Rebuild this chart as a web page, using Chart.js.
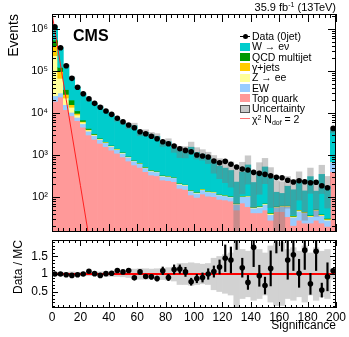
<!DOCTYPE html>
<html>
<head>
<meta charset="utf-8">
<script src="https://cdn.jsdelivr.net/npm/chart.js@4.4.0/dist/chart.umd.min.js"></script>
<style>
  html, body { margin: 0; padding: 0; background: #fff; }
  #wrap { position: relative; width: 349px; height: 337px; font-family: "Liberation Sans", Arial, sans-serif; color: #000; }
  canvas { position: absolute; left: 0; }
  #cTop { top: 0; }
  #cRatio { top: 236px; }
  .lumi { position: absolute; right: 13px; top: 1px; font-size: 11px; line-height: 12px; white-space: nowrap; }
  .lumi sup { font-size: 7px; vertical-align: 4px; line-height: 0; }
  .cms { position: absolute; left: 73px; top: 28px; font-size: 16px; font-weight: bold; line-height: 16px; }
  .leg { position: absolute; left: 240px; top: 31px; font-size: 10.5px; line-height: 10.35px; white-space: nowrap; }
  .leg div { height: 10.35px; display: flex; align-items: center; }
  .leg .sym { display: inline-block; width: 10px; height: 8px; margin-right: 2px; box-sizing: border-box; position: relative; flex: none; }
  .leg .line::before { content: ""; position: absolute; left: 0; right: 0; top: 3.5px; height: 1px; background: #000; }
  .leg .dot::after { content: ""; position: absolute; left: 2.5px; top: 1.5px; width: 5px; height: 5px; border-radius: 50%; background: #000; }
  .leg .red::before { background: #ff7070; }
  .leg sup { font-size: 7px; vertical-align: 3px; line-height: 0; }
  .leg sub { font-size: 7px; vertical-align: -2px; line-height: 0; }
</style>
</head>
<body>
<div id="wrap">
  <canvas id="cTop" width="349" height="236"></canvas>
  <canvas id="cRatio" width="349" height="101"></canvas>
  <div class="lumi">35.9 fb<sup>-1</sup> (13TeV)</div>
  <div class="cms">CMS</div>
  <div class="leg">
    <div><span class="sym line dot"></span><span>Data (0jet)</span></div>
    <div><span class="sym" style="background:#00cccc"></span><span>W → eν</span></div>
    <div><span class="sym" style="background:#009900"></span><span>QCD multijet</span></div>
    <div><span class="sym" style="background:#ffcc00"></span><span>γ+jets</span></div>
    <div><span class="sym" style="background:#ffff99"></span><span>Z → ee</span></div>
    <div><span class="sym" style="background:#99ccff"></span><span>EW</span></div>
    <div><span class="sym" style="background:#ff9999"></span><span>Top quark</span></div>
    <div><span class="sym" style="background:#c8c8c8;border:1px solid #555"></span><span>Uncertainty</span></div>
    <div><span class="sym line red"></span><span>χ<sup>2</sup> N<sub>dof</sub> = 2</span></div>
  </div>
</div>
<script>
// bins of width 4 in significance
const binCenters = [2, 6, 10, 14, 18, 22, 26, 30, 34, 38, 42, 46, 50, 54, 58, 62, 66, 70, 74, 78,
  82, 86, 90, 94, 98, 102, 106, 110, 114, 118, 122, 126, 130, 134, 138, 142, 146, 150, 154, 158,
  162, 166, 170, 174, 178, 182, 186, 190, 194, 198];

const dataCounts = [1130000, 359000, 134000, 67000, 41000, 28800, 21900, 17000, 13700, 11200,
  9300, 7500, 6200, 5200, 4470, 3590, 3220, 2790, 2440, 2070,
  1860, 1640, 1410, 1290, 1200, 1000, 946, 896, 719, 656,
  708, 601, 518, 464, 440, 387, 366, 347, 321, 294,
  288, 250, 228, 244, 231, 219, 224, 186, 166, 4300];

// MC stack, bottom to top
const topQuark = [19000, 24000, 12000, 8600, 6600, 4600, 3000, 2370, 1900, 1580,
  1310, 1100, 900, 720, 580, 508, 401, 334, 320, 254,
  245, 232, 161, 152, 112, 98, 118, 105, 102, 88,
  85, 80, 49, 72, 59, 42, 42, 49, 28, 45,
  45, 34, 21, 28, 24, 24, 28, 24, 20, 400];
const ewk = [6800, 6000, 3800, 1800, 1300, 950, 700, 550, 450, 380,
  300, 250, 200, 170, 140, 115, 95, 80, 75, 60,
  58, 55, 40, 38, 28, 25, 30, 28, 26, 24,
  22, 20, 18, 30, 45, 12, 15, 18, 10, 12,
  15, 25, 12, 18, 18, 10, 20, 12, 8, 280];
const zee = [205000, 37000, 7000, 3300, 1100, 500, 250, 120, 80, 60,
  45, 40, 40, 20, 18, 15, 12, 15, 10, 8,
  10, 6, 8, 5, 4, 5, 6, 4, 4, 3,
  3, 2, 2, 2, 2, 2, 2, 2, 2, 1,
  1, 2, 1, 2, 1, 1, 1, 1, 1, 10];
const gammaJets = [169000, 30000, 5000, 2100, 800, 250, 100, 50, 30, 20,
  15, 12, 10, 8, 6, 5, 4, 4, 3, 3,
  2, 2, 2, 2, 1, 1, 1, 1, 1, 1,
  1, 1, 1, 1, 1, 1, 1, 1, 1, 1,
  1, 1, 1, 1, 1, 1, 1, 1, 1, 2];
const qcd = [147000, 25000, 8500, 4600, 1500, 500, 250, 120, 60, 40,
  30, 25, 20, 12, 10, 8, 10, 6, 5, 5,
  4, 3, 3, 2, 2, 2, 3, 2, 2, 1,
  1, 2, 1, 1, 1, 1, 1, 1, 1, 1,
  1, 1, 1, 1, 1, 1, 1, 1, 1, 2];
const wEnu = [583200, 237000, 100400, 49400, 30540, 22000, 15980, 13620, 11750, 9010,
  7420, 5390, 4680, 3800, 4270, 2740, 2940, 2590, 2390, 1570,
  1750, 1150, 1026, 1020, 1390, 1020, 890, 756, 537, 430,
  376, 324, 156, 289, 473, 164, 326, 449, 237, 70,
  59, 118, 113, 191, 95, 269, 87, 307, 151, 3250];

// relative MC uncertainty per bin
const mcUnc = [0.04, 0.04, 0.05, 0.06, 0.05, 0.05, 0.05, 0.05, 0.06, 0.06,
  0.07, 0.07, 0.08, 0.1, 0.14, 0.15, 0.15, 0.14, 0.15, 0.16,
  0.18, 0.2, 0.3, 0.3, 0.32, 0.3, 0.28, 0.3, 0.45, 0.5,
  0.55, 0.6, 0.97, 0.7, 0.65, 0.75, 0.7, 0.6, 0.8, 0.9,
  0.9, 0.7, 0.75, 0.65, 0.8, 0.6, 0.75, 0.65, 0.7, 0.15];

const ratio = [1.0, 1.0, 0.98, 0.96, 0.98, 1.0, 1.08, 1.01, 0.96, 1.01,
  1.02, 1.1, 1.06, 1.1, 0.89, 1.06, 0.93, 0.92, 0.87, 1.09,
  0.9, 1.13, 1.14, 1.06, 0.78, 0.87, 0.9, 1.0, 1.07, 1.2,
  1.45, 1.4, 2.3, 1.18, 0.76, 1.76, 0.95, 0.67, 1.16, 2.3,
  2.4, 1.4, 1.55, 1.02, 1.68, 0.72, 1.65, 0.54, 0.92, 1.09];
const ratioErr = [0.01, 0.01, 0.01, 0.01, 0.02, 0.02, 0.02, 0.02, 0.02, 0.03,
  0.03, 0.03, 0.04, 0.05, 0.05, 0.06, 0.06, 0.07, 0.07, 0.11,
  0.09, 0.13, 0.12, 0.13, 0.1, 0.12, 0.13, 0.15, 0.16, 0.2,
  0.38, 0.37, 0.6, 0.27, 0.2, 0.55, 0.3, 0.24, 0.5, 0.7,
  0.75, 0.55, 0.45, 0.4, 0.55, 0.3, 0.55, 0.2, 0.4, 0.06];

// chi2 (Ndof = 2) reference curve, read at a few points
const chi2X = [0, 10, 20, 26];
const chi2Y = [2400000, 21000, 190, 11];

const yTickValues = [100, 1000, 10000, 100000, 1000000];
const yTickLabels = ['10²', '10³', '10⁴', '10⁵', '10⁶'];
const xTickValues = [0, 20, 40, 60, 80, 100, 120, 140, 160, 180, 200];
const ratioTickValues = [0.5, 1, 1.5];

Chart.defaults.font.family = '"Liberation Sans", Arial, sans-serif';
Chart.defaults.color = '#000';

// inward ROOT-style ticks on all four sides plus frame
const innerTicks = {
  id: 'innerTicks',
  afterDatasetsDraw(chart, args, o) {
    const { ctx, chartArea: a } = chart;
    const x = chart.scales.x, y = chart.scales.y;
    ctx.save();
    ctx.strokeStyle = '#000';
    ctx.lineWidth = 1;
    ctx.beginPath();
    for (let v = 0; v <= 200; v += 4) {
      const len = v % 20 === 0 ? o.major : o.minor;
      const px = Math.round(x.getPixelForValue(v)) + 0.5;
      ctx.moveTo(px, a.bottom); ctx.lineTo(px, a.bottom - len);
      ctx.moveTo(px, a.top); ctx.lineTo(px, a.top + len);
    }
    o.yMarks(y).forEach(([v, major]) => {
      const py = Math.round(y.getPixelForValue(v)) + 0.5;
      if (py < a.top || py > a.bottom) return;
      const len = major ? o.major : o.minor;
      ctx.moveTo(a.left, py); ctx.lineTo(a.left + len, py);
      ctx.moveTo(a.right, py); ctx.lineTo(a.right - len, py);
    });
    ctx.stroke();
    ctx.strokeRect(Math.round(a.left) + 0.5, Math.round(a.top) + 0.5, Math.round(a.width) - 1, Math.round(a.height) - 1);
    ctx.restore();
  }
};

function logMarks(y) {
  const out = [];
  for (let d = 10; d <= 1e6; d *= 10) {
    for (let m = 1; m <= 9; m++) out.push([m * d, m === 1]);
  }
  return out;
}
function ratioMarks(y) {
  const out = [];
  for (let k = 1; k <= 19; k++) out.push([k / 10, k % 5 === 0]);
  return out;
}

// fixed axis sizes, no extra padding for labels
function fixY(s) { s.width = 52; s.paddingTop = 0; s.paddingBottom = 0; }
function fixX(s) { s.height = 29; s.paddingLeft = 0; s.paddingRight = 0; }

// build the floating stack from the component arrays
const stackParts = [
  { label: 'Top quark', values: topQuark, color: '#ff9999' },
  { label: 'EW', values: ewk, color: '#99ccff' },
  { label: 'Z → ee', values: zee, color: '#ffff99' },
  { label: 'γ+jets', values: gammaJets, color: '#ffcc00' },
  { label: 'QCD multijet', values: qcd, color: '#009900' },
  { label: 'W → eν', values: wEnu, color: '#00cccc' }
];
const running = binCenters.map(() => 1);
const mcTotal = binCenters.map((_, i) => stackParts.reduce((s, p) => s + p.values[i], 0));
const stackSets = stackParts.map((p, k) => {
  const pts = binCenters.map((x, i) => {
    const lo = running[i];
    const hi = (k === 0 ? 0 : running[i]) + p.values[i];
    running[i] = hi;
    return { x, y: [lo, hi] };
  });
  return {
    type: 'bar', label: p.label, data: pts, backgroundColor: p.color,
    borderWidth: 0, grouped: false, categoryPercentage: 1, barPercentage: 1, order: 10 - k
  };
});

const uncSet = {
  type: 'bar', label: 'Uncertainty', grouped: false, categoryPercentage: 1, barPercentage: 1,
  data: binCenters.map((x, i) => ({ x, y: [mcTotal[i] * (1 - mcUnc[i]), mcTotal[i] * (1 + mcUnc[i])] })),
  backgroundColor: 'rgba(120,120,120,0.4)', borderWidth: 0, order: 3
};

new Chart(document.getElementById('cTop'), {
  type: 'bar',
  data: {
    datasets: [
      {
        type: 'line', label: 'Data (0jet)', data: binCenters.map((x, i) => ({ x, y: dataCounts[i] })),
        showLine: false, pointRadius: 2.8, pointBackgroundColor: '#000', pointBorderWidth: 0, borderColor: '#000', order: 0
      },
      {
        type: 'line', label: 'chi2', data: chi2X.map((x, i) => ({ x, y: chi2Y[i] })),
        borderColor: '#ff2020', borderWidth: 1, pointRadius: 0, tension: 0, order: 1
      },
      uncSet,
      ...stackSets
    ]
  },
  options: {
    responsive: false, animation: false,
    layout: { padding: { left: 0, right: 13, top: 14, bottom: 4 } },
    plugins: {
      legend: { display: false }, tooltip: { enabled: false },
      innerTicks: { major: 8, minor: 4, yMarks: logMarks }
    },
    scales: {
      x: { type: 'linear', min: 0, max: 200, offset: false, display: false },
      y: {
        type: 'logarithmic', min: 14.7, max: 2280000,
        afterFit: fixY,
        afterBuildTicks: s => { s.ticks = yTickValues.map(v => ({ value: v })); },
        ticks: { callback: v => yTickLabels[yTickValues.indexOf(v)], font: { size: 11 }, padding: 4 },
        grid: { display: false, drawTicks: false }, border: { display: false },
        title: { display: true, text: 'Events', align: 'end', font: { size: 14 }, padding: { top: 6, bottom: 0 } }
      }
    }
  },
  plugins: [innerTicks]
});

new Chart(document.getElementById('cRatio'), {
  type: 'bar',
  data: {
    datasets: [
      {
        type: 'line', label: 'ratio', data: binCenters.map((x, i) => ({ x, y: ratio[i] })),
        showLine: false, pointRadius: 2.8, pointBackgroundColor: '#000', pointBorderWidth: 0, borderColor: '#000', order: 0
      },
      {
        type: 'bar', label: 'ratio err', grouped: false, barThickness: 1.5,
        data: binCenters.map((x, i) => ({ x, y: [ratio[i] - ratioErr[i], ratio[i] + ratioErr[i]] })),
        backgroundColor: '#000', borderWidth: 0, order: 1
      },
      {
        type: 'line', label: 'unity', data: [{ x: 0, y: 1 }, { x: 200, y: 1 }],
        borderColor: '#ff0000', borderWidth: 2, pointRadius: 0, order: 2
      },
      {
        type: 'bar', label: 'band', grouped: false, categoryPercentage: 1, barPercentage: 1,
        data: binCenters.map((x, i) => ({ x, y: [1 - mcUnc[i], 1 + mcUnc[i]] })),
        backgroundColor: '#d2d2d2', borderWidth: 0, order: 3
      }
    ]
  },
  options: {
    responsive: false, animation: false,
    layout: { padding: { left: 0, right: 13, top: 4, bottom: 0 } },
    plugins: {
      legend: { display: false }, tooltip: { enabled: false },
      innerTicks: { major: 6, minor: 3, yMarks: ratioMarks }
    },
    scales: {
      x: {
        type: 'linear', min: 0, max: 200, offset: false,
        afterFit: fixX,
        afterBuildTicks: s => { s.ticks = xTickValues.map(v => ({ value: v })); },
        ticks: { font: { size: 12 }, padding: 2, maxRotation: 0 },
        grid: { display: false, drawTicks: false }, border: { display: false },
        title: { display: true, text: 'Significance', align: 'end', font: { size: 12 }, padding: { top: 0, bottom: 4 } }
      },
      y: {
        min: 0.03, max: 1.97,
        afterFit: fixY,
        afterBuildTicks: s => { s.ticks = ratioTickValues.map(v => ({ value: v })); },
        ticks: { callback: v => String(v), font: { size: 12 }, padding: 4 },
        grid: { display: false, drawTicks: false }, border: { display: false },
        title: { display: true, text: 'Data / MC', align: 'end', font: { size: 12 }, padding: { top: 11, bottom: 0 } }
      }
    }
  },
  plugins: [innerTicks]
});
</script>
</body>
</html>
